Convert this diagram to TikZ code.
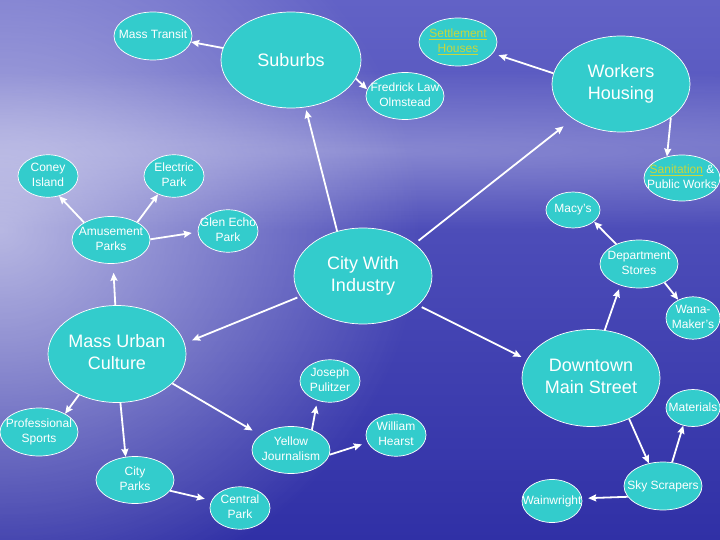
\documentclass[tikz,border=0pt]{standalone}
\usepackage{fontspec}
\setmainfont{Liberation Sans}
\usetikzlibrary{shapes}
\usetikzlibrary{arrows.meta}
\usetikzlibrary{fadings}

\definecolor{blob}{RGB}{51,204,204}
\definecolor{linkc}{RGB}{200,214,60}
\definecolor{skytop}{RGB}{98,98,198}
\definecolor{skymid}{RGB}{52,52,172}
\definecolor{skybot}{RGB}{48,48,166}

\tikzfading[name = haze, inner color = transparent!0, outer color = transparent!100]

\newcommand{\blobtext}[1]{\makebox[0pt]{\begin{tabular}{@{}c@{}}#1\end{tabular}}}
\newcommand{\linkword}[1]{\textcolor{linkc}{\setbox0=\hbox{#1}\rlap{\rule[-2.4pt]{\wd0}{1.2pt}}\box0}}

\begin{document}
\begin{tikzpicture}[x = 1pt, y = -1pt, white, line width = 1.8pt,
    blob base/.style = {ellipse, draw = white, line width = 0.7pt, fill = blob, text = white, inner sep = 0pt},
    bigblob/.style = {blob base, minimum width = 138pt, minimum height = 96pt, font = \fontsize{18}{22}\selectfont},
    wideblob/.style = {blob base, minimum width = 78pt, minimum height = 47pt, font = \fontsize{12}{15}\selectfont},
    midblob/.style = {blob base, minimum width = 60pt, minimum height = 42pt, font = \fontsize{12}{15}\selectfont},
    tinyblob/.style = {blob base, minimum width = 54pt, minimum height = 37pt, font = \fontsize{12}{15}\selectfont},
    arr/.style = {-{Stealth[length = 8pt, width = 7pt, inset = 1pt]}}]

    \useasboundingbox (0,0) rectangle (720,540);

    % sky
    \fill[top color = skytop, middle color = skymid, bottom color = skybot] (0,0) rectangle (720,540);
    \fill[white, opacity = 0.3, path fading = haze] (-1040,70) rectangle (1760,230);
    \fill[white, opacity = 0.6, path fading = haze] (-420,-150) rectangle (420,610);


    \node (SUB)  at (291,60)  [bigblob, minimum width = 140pt] {Suburbs};
    \node (WH)   at (621,84)  [bigblob] {\blobtext{Workers\\Housing}};
    \node (CWI)  at (363,276) [bigblob] {\blobtext{City With\\Industry}};
    \node (MUC)  at (117,354) [bigblob, minimum height = 97pt] {\blobtext{Mass Urban\\Culture}};
    \node (DMS)  at (591,378) [bigblob, minimum height = 97pt] {\blobtext{Downtown\\Main Street}};

    \node (MT)   at (153,36)  [wideblob, minimum height = 48pt] {\blobtext{Mass Transit}};
    \node (SH)   at (458,42)  [wideblob, minimum height = 48pt] {\blobtext{\linkword{Settlement}\\\linkword{Houses}}};
    \node (FLO)  at (405,96)  [wideblob] {\blobtext{Fredrick Law\\Olmstead}};
    \node (SPW)  at (682,178) [wideblob, minimum width = 76pt, minimum height = 46pt] {\blobtext{\linkword{Sanitation} \&\\Public Works}};

    \node (CI)   at (48,176)  [midblob, minimum height = 41pt] {\blobtext{Coney\\Island}};
    \node (EP)   at (174,176) [midblob, minimum height = 41pt] {\blobtext{Electric\\Park}};
    \node (AP)   at (111,240) [wideblob] {\blobtext{Amusement\\Parks}};
    \node (GEP)  at (228,231) [midblob] {\blobtext{Glen Echo\\Park}};

    \node (MAC)  at (573,210) [tinyblob, minimum height = 36pt] {\blobtext{Macy's}};
    \node (DS)   at (639,264) [wideblob, minimum height = 48pt] {\blobtext{Department\\Stores}};
    \node (WM)   at (693,318) [tinyblob, minimum height = 40pt] {\blobtext{Wana-\\Maker's}};

    \node (JP)   at (330,381) [midblob] {\blobtext{Joseph\\Pulitzer}};
    \node (PS)   at (39,432)  [wideblob, minimum height = 48pt] {\blobtext{Professional\\Sports}};
    \node (CP)   at (135,480) [wideblob] {\blobtext{City\\Parks}};
    \node (YJ)   at (291,450) [wideblob] {\blobtext{Yellow\\Journalism}};
    \node (CEN)  at (240,508) [midblob, minimum height = 41pt] {\blobtext{Central\\Park}};
    \node (HRST) at (396,435) [midblob] {\blobtext{William\\Hearst}};

    \node (MAT)  at (693,408) [tinyblob] {\blobtext{Materials}};
    \node (SKY)  at (663,486) [wideblob, minimum height = 48pt] {\blobtext{Sky Scrapers}};
    \node (WAIN) at (552,501) [midblob, minimum height = 43pt] {\blobtext{Wainwright}};


    \draw[arr] (SUB.170) -- (MT.-9);
    \draw[arr] (SUB.-16) -- (FLO.170);
    \draw[arr, shorten > = 6pt] (WH.171) -- (SH.-18);
    \draw[arr] (WH.-34) -- (SPW.125);

    \draw[arr, shorten > = 3pt] (CWI.120) -- (SUB.-73);
    \draw[arr, shorten > = 12pt, shorten < = 5pt] (CWI.32) -- (WH.216);
    \draw[arr, shorten > = 8pt, shorten < = 3pt] (CWI.198) -- (MUC.9);
    \draw[arr, shorten > = 6pt, shorten < = 4pt] (CWI.-28) -- (DMS.164);

    \draw[arr, shorten > = 4pt] (DMS.74) -- (DS.229);
    \draw[arr] (DS.139) -- (MAC.-29);
    \draw[arr] (DS.-36) -- (WM.129);
    \draw[arr] (DMS.-47) -- (SKY.122);
    \draw[arr] (SKY.69) -- (MAT.241);
    \draw[arr, shorten > = 6pt] (SKY.197) -- (WAIN.5);

    \draw[arr, shorten > = 9pt] (MUC.92) -- (AP.-85);
    \draw[arr] (AP.147) -- (CI.-61);
    \draw[arr] (AP.34) -- (EP.229);
    \draw[arr, shorten > = 6pt] (AP.1) -- (GEP.182);

    \draw[arr] (MUC.227) -- (PS.35);
    \draw[arr] (MUC.-86) -- (CP.112);
    \draw[arr, shorten > = 7pt] (CP.-17) -- (CEN.165);
    \draw[arr, shorten > = 9pt] (MUC.-28) -- (YJ.154);
    \draw[arr, shorten > = 5pt] (YJ.44) -- (JP.237);
    \draw[arr, shorten > = 6pt] (YJ.-7) -- (HRST.195);

\end{tikzpicture}
\end{document}
